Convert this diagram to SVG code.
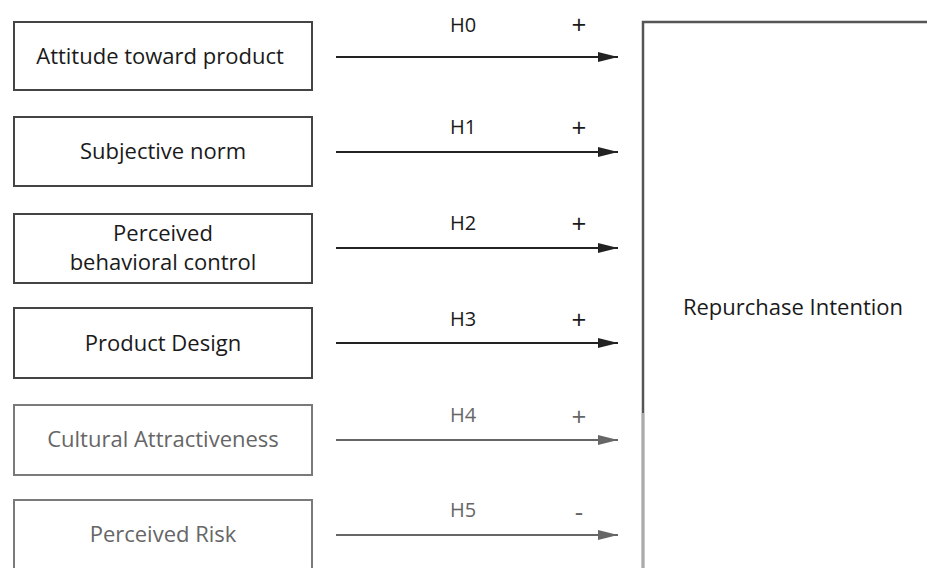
<svg xmlns="http://www.w3.org/2000/svg" width="927" height="568" viewBox="0 0 927 568">
<style>
.box{fill:#fff;stroke:#444;stroke-width:2}
.box.lt{stroke:#7a7a7a}
.t{font-family:"Open Sans","Noto Sans","Liberation Sans",sans-serif;font-size:22px;fill:#1a1a1a;text-anchor:middle}
.t.lt{fill:#666}
.lab{font-family:"Open Sans","Noto Sans","Liberation Sans",sans-serif;font-size:20px;font-weight:500;fill:#1a1a1a;text-anchor:middle}
.lab.lt{fill:#666}
.pm{font-size:26px}
.c{stroke:#222;stroke-width:2;fill:none;marker-end:url(#ah)}
.c.lt{stroke:#666;marker-end:url(#ah2)}
</style>
<defs>
<marker id="ah" markerWidth="20" markerHeight="10" refX="20" refY="5" orient="auto" markerUnits="userSpaceOnUse"><path d="M0,0 L20,5 L0,10 Z" fill="#222"/></marker>
<marker id="ah2" markerWidth="20" markerHeight="10" refX="20" refY="5" orient="auto" markerUnits="userSpaceOnUse"><path d="M0,0 L20,5 L0,10 Z" fill="#666"/></marker>
</defs>
<rect width="927" height="568" fill="#fff"/>
<g id="n0"><rect class="box" x="14" y="22" width="298" height="68"/><text class="t" x="160" y="64">Attitude toward product</text></g>
<g id="n1"><rect class="box" x="14" y="117" width="298" height="69"/><text class="t" x="163" y="159">Subjective norm</text></g>
<g id="n2"><rect class="box" x="14" y="214" width="298" height="69"/><text class="t" x="163" y="241">Perceived</text><text class="t" x="163" y="270">behavioral control</text></g>
<g id="n3"><rect class="box" x="14" y="308" width="298" height="70"/><text class="t" x="163" y="351">Product Design</text></g>
<g id="n4"><rect class="box lt" x="14" y="405" width="298" height="70"/><text class="t lt" x="163" y="447">Cultural Attractiveness</text></g>
<g id="n5"><rect class="box lt" x="14" y="500" width="298" height="80"/><text class="t lt" x="163" y="542">Perceived Risk</text></g>
<g id="n6"><path d="M643,580 L643,22 L940,22" fill="none" stroke="#555" stroke-width="2.5"/><path d="M643,413 L643,580" stroke="#aaa" stroke-width="2.5"/><text class="t" x="793" y="315">Repurchase Intention</text></g>
<g id="connectors">
<line class="c" x1="336" y1="57" x2="618" y2="57"/>
<line class="c" x1="336" y1="152" x2="618" y2="152"/>
<line class="c" x1="336" y1="248" x2="618" y2="248"/>
<line class="c" x1="336" y1="343" x2="618" y2="343"/>
<line class="c lt" x1="336" y1="440" x2="618" y2="440"/>
<line class="c lt" x1="336" y1="535" x2="618" y2="535"/>
<text class="lab" x="463" y="32">H0</text><text class="lab pm" x="579" y="34">+</text>
<text class="lab" x="463" y="134">H1</text><text class="lab pm" x="579" y="137">+</text>
<text class="lab" x="463" y="230">H2</text><text class="lab pm" x="579" y="233">+</text>
<text class="lab" x="463" y="326">H3</text><text class="lab pm" x="579" y="329">+</text>
<text class="lab lt" x="463" y="422">H4</text><text class="lab lt pm" x="579" y="426">+</text>
<text class="lab lt" x="463" y="517">H5</text><text class="lab lt pm" x="579" y="521">-</text>
</g>
</svg>
